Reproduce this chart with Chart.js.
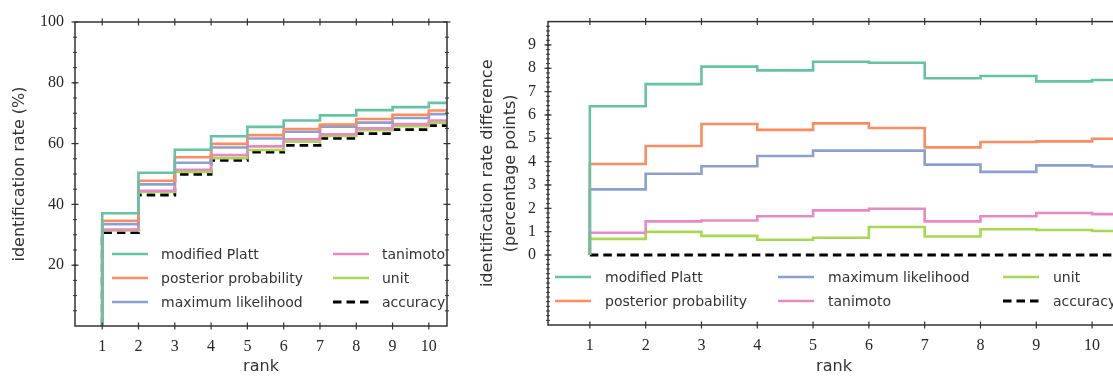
<!DOCTYPE html>
<html><head><meta charset="utf-8">
<script src="https://cdn.jsdelivr.net/npm/chart.js@4"></script>
<style>
html,body{margin:0;padding:0;background:#fff;overflow:hidden;width:1113px;height:376px;position:relative}
#c1{position:absolute;left:0;top:0}
#c2{position:absolute;left:470px;top:0}
</style></head><body>
<canvas id="c1" width="470" height="376"></canvas>
<canvas id="c2" width="680" height="376"></canvas>
<script>
// ---- data ----
const ranks = [1, 2, 3, 4, 5, 6, 7, 8, 9, 10];
const seriesNames = ['modified Platt', 'posterior probability', 'maximum likelihood', 'tanimoto', 'unit', 'accuracy'];

// identification rate (%)
const rateModifiedPlatt = [37.1, 50.4, 58.0, 62.4, 65.5, 67.6, 69.3, 71.0, 72.0, 73.4];
const ratePosterior     = [34.6, 47.8, 55.5, 59.9, 62.8, 64.8, 66.3, 68.1, 69.5, 70.9];
const rateMaxLikelihood = [33.5, 46.6, 53.7, 58.7, 61.7, 63.9, 65.6, 66.9, 68.4, 69.7];
const rateTanimoto      = [31.7, 44.5, 51.4, 56.2, 59.1, 61.4, 63.1, 65.0, 66.4, 67.6];
const rateUnit          = [31.4, 44.1, 50.7, 55.2, 57.9, 60.6, 62.5, 64.4, 65.7, 66.9];
const rateAccuracy      = [30.7, 43.1, 49.9, 54.5, 57.2, 59.4, 61.7, 63.3, 64.6, 65.9];

// identification rate difference (percentage points)
const diffModifiedPlatt = [6.37, 7.32, 8.07, 7.91, 8.28, 8.24, 7.57, 7.67, 7.44, 7.50];
const diffPosterior     = [3.90, 4.67, 5.61, 5.36, 5.64, 5.44, 4.61, 4.84, 4.87, 4.98];
const diffMaxLikelihood = [2.81, 3.48, 3.80, 4.24, 4.47, 4.47, 3.87, 3.56, 3.84, 3.79];
const diffTanimoto      = [0.95, 1.44, 1.48, 1.66, 1.91, 1.98, 1.44, 1.66, 1.80, 1.75];
const diffUnit          = [0.69, 0.99, 0.82, 0.65, 0.74, 1.20, 0.79, 1.10, 1.07, 1.03];
const diffAccuracy      = [0, 0, 0, 0, 0, 0, 0, 0, 0, 0];

// tick labels
const xTickLabels = ranks;
const leftYTickLabels = [20, 40, 60, 80, 100];
const rightYTickLabels = [0, 1, 2, 3, 4, 5, 6, 7, 8, 9];

// ---- styling ----
const colors = ['#66c2a5', '#fc8d62', '#8da0cb', '#e78ac3', '#a6d854', '#000000'];
const SERIF = "'Liberation Serif', 'DejaVu Serif', serif";
const SANS = "'DejaVu Sans', sans-serif";
const AXIS = '#333333';

// step line: starts from baseline at first rank, each value holds until next rank
function stepData(vals) {
  const pts = [{x: ranks[0], y: 0}];
  ranks.forEach((r, i) => pts.push({x: r, y: vals[i]}));
  pts.push({x: ranks[ranks.length - 1] + 1, y: vals[vals.length - 1]});
  return pts;
}
function datasets(arrs) {
  return arrs.map((a, i) => ({
    label: seriesNames[i],
    data: stepData(a),
    borderColor: colors[i],
    backgroundColor: colors[i],
    borderWidth: i === 5 ? 2.8 : 2.6,
    borderDash: i === 5 ? [8.5, 5] : [],
    borderCapStyle: 'butt',
    stepped: true,
    pointRadius: 0,
    fill: false,
    tension: 0
  }));
}

const framePlugin = {
  id: 'frame',
  afterDatasetsDraw(chart, args, o) {
    const {ctx, chartArea: a, scales: {x, y}} = chart;
    ctx.save();
    ctx.strokeStyle = AXIS;
    ctx.lineWidth = 1.5;
    ctx.strokeRect(a.left, a.top, a.right - a.left, a.bottom - a.top);
    const seg = (x1, y1, x2, y2) => { ctx.beginPath(); ctx.moveTo(x1, y1); ctx.lineTo(x2, y2); ctx.stroke(); };
    ctx.lineWidth = 1.2;
    o.xMajor.forEach(v => {
      const p = x.getPixelForValue(v);
      seg(p, a.bottom - 3.5, p, a.bottom + 3.5);
      seg(p, a.top - 3.5, p, a.top + 3.5);
    });
    o.yMajor.forEach(v => {
      const p = y.getPixelForValue(v);
      seg(a.left - 3.5, p, a.left + 3.5, p);
      seg(a.right - 3.5, p, a.right + 3.5, p);
    });
    ctx.lineWidth = 1;
    const n = Math.round((y.max - y.min) / o.yMinorStep);
    for (let k = 1; k < n; k++) {
      const v = y.min + k * o.yMinorStep;
      const p = y.getPixelForValue(v);
      seg(a.left - 2, p, a.left + 2, p);
      seg(a.right - 2, p, a.right + 2, p);
    }
    ctx.restore();
  }
};

const legendPlugin = {
  id: 'colLegend',
  afterDraw(chart, args, o) {
    const {ctx} = chart;
    ctx.save();
    ctx.font = '14px ' + SANS;
    ctx.fillStyle = '#333333';
    ctx.textBaseline = 'middle';
    o.entries.forEach(([i, sx, sy]) => {
      const ds = chart.data.datasets[i];
      ctx.strokeStyle = ds.borderColor;
      ctx.lineWidth = ds.borderWidth;
      ctx.setLineDash(ds.borderDash);
      ctx.lineCap = 'butt';
      ctx.beginPath(); ctx.moveTo(sx, sy); ctx.lineTo(sx + o.sampleLen, sy); ctx.stroke();
      ctx.setLineDash([]);
      ctx.fillText(ds.label, sx + o.textOffset, sy + 1);
    });
    ctx.restore();
  }
};

function makeChart(id, arrs, cfg) {
  return new Chart(document.getElementById(id), {
    type: 'line',
    data: {datasets: datasets(arrs)},
    options: {
      responsive: false, animation: false, devicePixelRatio: 1,
      layout: {padding: cfg.padding},
      scales: {
        x: {
          type: 'linear', min: 0.25, max: 10.5,
          afterBuildTicks: s => { s.ticks = xTickLabels.map(v => ({value: v})); },
          afterFit: s => { s.height = cfg.xHeight; },
          grid: {display: false, drawTicks: false}, border: {display: false},
          ticks: {font: {family: SERIF, size: 16}, color: '#262626', padding: 11, maxRotation: 0, autoSkip: false},
          title: {display: true, text: 'rank', font: {family: SANS, size: 16, lineHeight: 1.1}, color: '#333333', padding: {top: 0, bottom: 0}}
        },
        y: {
          type: 'linear', min: cfg.yMin, max: cfg.yMax,
          afterBuildTicks: s => { s.ticks = cfg.yTicks.map(v => ({value: v})); },
          afterFit: s => { s.width = cfg.yWidth; },
          grid: {display: false, drawTicks: false}, border: {display: false},
          ticks: {font: {family: SERIF, size: 16}, color: '#262626', padding: cfg.yPad, autoSkip: false},
          title: {display: true, text: cfg.yTitle, font: {family: SANS, size: 16, lineHeight: 1.4}, color: '#333333', padding: {top: cfg.yTitlePad, bottom: 0}}
        }
      },
      plugins: {
        legend: {display: false}, tooltip: {enabled: false},
        frame: {xMajor: xTickLabels, yMajor: cfg.yTicks, yMinorStep: cfg.minor},
        colLegend: cfg.legend
      }
    },
    plugins: [framePlugin, legendPlugin]
  });
}

makeChart('c1',
  [rateModifiedPlatt, ratePosterior, rateMaxLikelihood, rateTanimoto, rateUnit, rateAccuracy],
  {
    padding: {left: 0, top: 22, right: 23, bottom: 0},
    xHeight: 50, yWidth: 75, yPad: 11, yMin: 0, yMax: 100, yTicks: leftYTickLabels, minor: 5,
    yTitle: 'identification rate (%)', yTitlePad: 9,
    legend: {sampleLen: 36, textOffset: 49,
      entries: [[0, 112, 254], [1, 112, 278], [2, 112, 302], [3, 333, 254], [4, 333, 278], [5, 333, 302]]}
  });

makeChart('c2',
  [diffModifiedPlatt, diffPosterior, diffMaxLikelihood, diffTanimoto, diffUnit, diffAccuracy],
  {
    padding: {left: 0, top: 15, right: 30, bottom: 0},
    xHeight: 51, yWidth: 78, yPad: 12, yMin: -3, yMax: 10, yTicks: rightYTickLabels, minor: 0.2,
    yTitle: ['identification rate difference', '(percentage points)'], yTitlePad: 7,
    legend: {sampleLen: 36, textOffset: 50,
      entries: [[0, 85, 277], [1, 85, 301], [2, 308, 277], [3, 308, 301], [4, 533, 277], [5, 533, 301]]}
  });
</script>
</body></html>
